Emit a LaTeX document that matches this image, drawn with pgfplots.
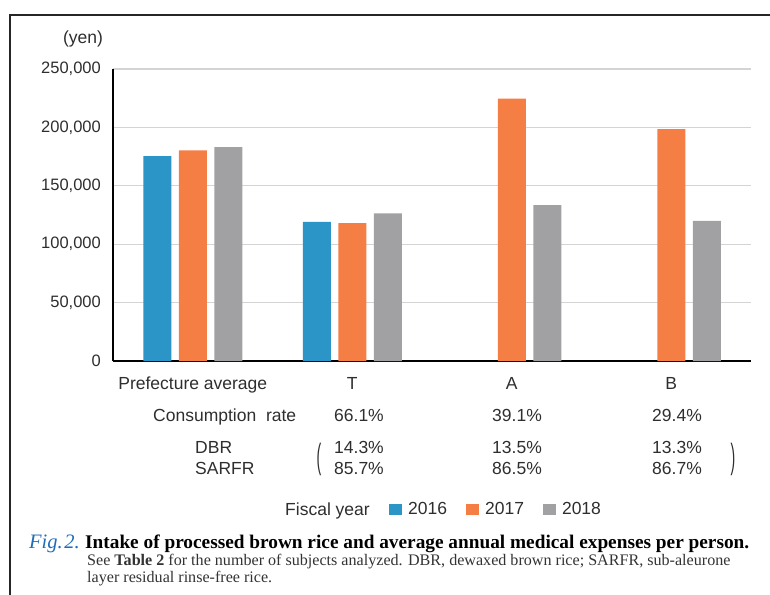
\documentclass[border=0pt]{standalone}
\usepackage{fontspec}
\setmainfont{Liberation Sans}
\newfontfamily\capfont{Liberation Serif}
\usepackage{pgfplots}
\pgfplotsset{compat=1.18}
\definecolor{c16}{HTML}{2B95C8}
\definecolor{c17}{HTML}{F57E45}
\definecolor{c18}{HTML}{A1A1A4}
\definecolor{txt}{HTML}{2E2E2E}
\definecolor{figblue}{HTML}{1F6DB8}
\newcommand{\tf}{\fontsize{17.5bp}{20bp}\selectfont}
\newcommand{\tickf}{\fontsize{16.5bp}{19bp}\selectfont}
\begin{document}
\begin{tikzpicture}
\path[use as bounding box] (0,0) rectangle (770bp,-595bp);
% frame
\draw[line width=2bp, color=black!85] (770bp,-15bp) -- (10bp,-15bp) -- (10bp,-595bp);
\begin{axis}[
  at={(113bp,-361bp)}, anchor=south west,
  scale only axis, width=638bp, height=292bp,
  xmin=-0.5, xmax=3.5, ymin=0, ymax=250000,
  axis x line*=bottom, axis y line*=left,
  axis line style={line width=1.3bp, black, -},
  ytick={0,50000,100000,150000,200000,250000},
  scaled y ticks=false,
  /pgf/number format/assume math mode=true,
  yticklabel style={/pgf/number format/fixed, /pgf/number format/1000 sep={,}, font=\tickf, text=txt, anchor=east, inner sep=0pt, xshift=-12bp},
  xtick={0,1,2,3}, xticklabels={Prefecture average,T,A,B},
  xticklabel style={font=\tf, text=txt, anchor=base, inner sep=0pt, yshift=-28bp},
  major tick length=0pt,
  ymajorgrids, grid style={line width=1.3bp, color=black!17},
  legend columns=3,
  legend style={at={(axis description cs:0.4326,-0.507)}, anchor=west, draw=none, fill=none, inner sep=0pt, font=\tf, text=txt,
    /tikz/every odd column/.append style={column sep=4bp},
    /tikz/every even column/.append style={column sep=17bp}},
  legend image code/.code={\fill[#1] (0bp,-5.5bp) rectangle (13bp,5.5bp);},
]
\addplot[ybar, bar width=28bp, bar shift=-35.5bp, fill=c16, draw=none] coordinates {(0,175500) (1,119100)};
\addplot[ybar, bar width=28bp, bar shift=0bp, fill=c17, draw=none] coordinates {(0,180400) (1,118000) (2,224600) (3,198600)};
\addplot[ybar, bar width=28bp, bar shift=35.5bp, fill=c18, draw=none] coordinates {(0,183200) (1,126300) (2,133500) (3,120000)};
\legend{2016,2017,2018}
\end{axis}
% texts
\node[anchor=base, inner sep=0pt, font=\tf, text=txt] at (83bp,-43bp) {(yen)};
\node[anchor=base west, inner sep=0pt, font=\tf, text=txt] at (153bp,-421bp) {Consumption\ \ rate};
\node[anchor=base, inner sep=0pt, font=\tf, text=txt] at (359bp,-421bp) {66.1\%};
\node[anchor=base, inner sep=0pt, font=\tf, text=txt] at (517bp,-421bp) {39.1\%};
\node[anchor=base, inner sep=0pt, font=\tf, text=txt] at (677bp,-421bp) {29.4\%};
\node[anchor=base west, inner sep=0pt, font=\tf, text=txt] at (195bp,-453bp) {DBR};
\node[anchor=base west, inner sep=0pt, font=\tf, text=txt] at (195bp,-474bp) {SARFR};
\node[anchor=base, inner sep=0pt, font=\tf, text=txt] at (359bp,-453bp) {14.3\%};
\node[anchor=base, inner sep=0pt, font=\tf, text=txt] at (359bp,-474bp) {85.7\%};
\node[anchor=base, inner sep=0pt, font=\tf, text=txt] at (517bp,-453bp) {13.5\%};
\node[anchor=base, inner sep=0pt, font=\tf, text=txt] at (517bp,-474bp) {86.5\%};
\node[anchor=base, inner sep=0pt, font=\tf, text=txt] at (677bp,-453bp) {13.3\%};
\node[anchor=base, inner sep=0pt, font=\tf, text=txt] at (677bp,-474bp) {86.7\%};
\node[inner sep=0pt, font=\tf, text=txt] at (319bp,-459bp) {\scalebox{0.8}[2.0]{(}};
\node[inner sep=0pt, font=\tf, text=txt] at (733bp,-459bp) {\scalebox{0.8}[2.0]{)}};
\node[anchor=base east, inner sep=0pt, font=\tf, text=txt] at (370bp,-515bp) {Fiscal year};
% caption
\node[anchor=base west, inner sep=0pt] at (29bp,-548bp) {\capfont\fontsize{20.5bp}{22bp}\selectfont\color{figblue}\itshape Fig.\kern1.5bp2.};
\node[anchor=base west, inner sep=0pt] at (85bp,-548bp) {\capfont\fontsize{19.3bp}{22bp}\selectfont\bfseries Intake of processed brown rice and average annual medical expenses per person.};
\node[anchor=base west, inner sep=0pt, text=black!80] at (87bp,-565bp) {\capfont\fontsize{16.1bp}{18bp}\selectfont See \textbf{Table 2} for the number of subjects analyzed. DBR, dewaxed brown rice; SARFR, sub-aleurone};
\node[anchor=base west, inner sep=0pt, text=black!80] at (87bp,-582bp) {\capfont\fontsize{16.1bp}{18bp}\selectfont layer residual rinse-free rice.};
\end{tikzpicture}
\end{document}
